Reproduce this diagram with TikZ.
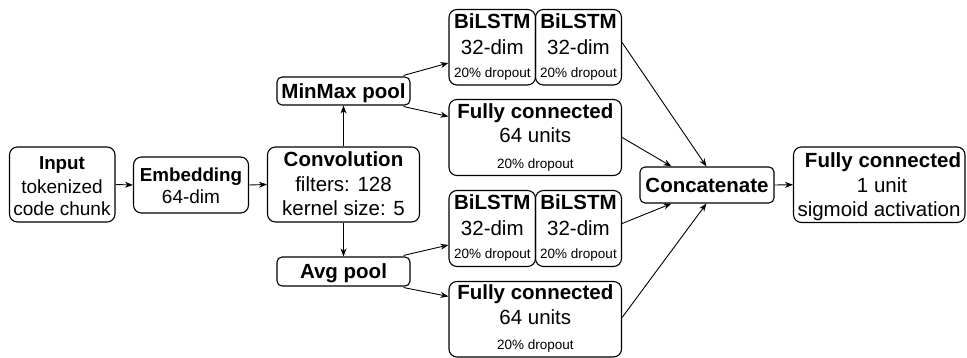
\documentclass[tikz,border=0pt]{standalone}
\usepackage{fontspec}
\setmainfont{Liberation Sans}
\usetikzlibrary{arrows.meta,calc}
\tikzset{
  box/.style={draw, rounded corners=8pt, line width=1.1pt, inner sep=0pt},
  sbox/.style={box, rounded corners=5pt},
  conn/.style={line width=0.9pt, -{Stealth[length=8pt,width=6pt,inset=2.5pt]}},
  txt/.style={anchor=base, inner sep=0pt},
  H/.style={txt, font=\fontsize{20.5}{24}\selectfont\bfseries},
  R/.style={txt, font=\fontsize{20.5}{24}\selectfont},
  HS/.style={txt, font=\fontsize{18.8}{22}\selectfont\bfseries},
  RS/.style={txt, font=\fontsize{19}{22}\selectfont},
  S/.style={txt, font=\fontsize{13.5}{16}\selectfont},
}
\newcommand\bx[6][box]{\node[#1, minimum width={#5-#3}, minimum height={#6-#4}] (#2) at ({(#3+#5)/2},{(#4+#6)/2}) {};}
\begin{document}
\begin{tikzpicture}[x=1pt,y=-1pt]
\useasboundingbox (0,0) rectangle (967,358);
% boxes
\bx{inp}{9.5}{147}{115}{222}
\bx{emb}{133.5}{157}{248.5}{213}
\bx{conv}{267.5}{147}{419.5}{222}
\bx[sbox]{mm}{277}{77}{410}{105}
\bx[sbox]{avg}{277}{257}{410}{286}
\bx{bla}{449}{9.5}{535.5}{85}
\bx{blb}{535.5}{9.5}{621.5}{85}
\bx{fca}{449}{99.5}{621.5}{175.5}
\bx{blc}{449}{190.5}{535.5}{266.5}
\bx{bld}{535.5}{190.5}{621.5}{266.5}
\bx{fcb}{449}{281.5}{621.5}{357}
\bx[sbox]{cat}{640}{167}{774}{203}
\bx{out}{793.5}{147}{965}{222.5}
% texts
\node[HS] (inp1) at (62,169.3) {Input};
\node[RS] (inp2) at (62,193.3) {tokenized};
\node[RS] (inp3) at (62,216) {code chunk};
\node[HS] (emb1) at (191,181.7) {Embedding};
\node[RS] (emb2) at (191,203.3) {64-dim};
\node[H] (conv1) at (343.5,166.7) {Convolution};
\node[R] (conv2) at (343.5,191.7) {filters: 128};
\node[R] (conv3) at (343.5,216) {kernel size: 5};
\node[H] (mm1) at (343.5,98.5) {MinMax pool};
\node[H] (avg1) at (343.5,278.5) {Avg pool};
\foreach \n/\cx/\oy in {bla/492.3/0, blb/578.5/0, blc/492.3/181, bld/578.5/181}{
  \node[H] (\n1) at (\cx,28.3+\oy) {BiLSTM};
  \node[R] (\n2) at (\cx,55+\oy) {32-dim};
  \node[S] (\n3) at (\cx,77.3+\oy) {20\% dropout};
}
\foreach \n/\oy in {fca/0, fcb/181.5}{
  \node[H] (\n1) at (535.3,118.3+\oy) {Fully connected};
  \node[R] (\n2) at (535.3,142.7+\oy) {64 units};
  \node[S] (\n3) at (535.3,168.3+\oy) {20\% dropout};
}
\node[H] (cat1) at (707,192.5) {Concatenate};
\node[H] (out1) at (883,167.5) {Fully connected};
\node[R] (out2) at (882,193) {1 unit};
\node[R] (out3) at (879,216.5) {sigmoid activation};
% connectors
\draw[conn] (inp.east) -- (emb.west);
\draw[conn] (emb.east) -- (conv.west);
\draw[conn] (conv.north) -- (mm.south);
\draw[conn] (conv.south) -- (avg.north);
\draw[conn] ($(mm.north east)+(-7,-1)$) -- ($(bla.west)+(0,15.7)$);
\draw[conn] ($(mm.south east)+(-7,1)$) -- ($(fca.north west)+(0,17.5)$);
\draw[conn] ($(avg.north east)+(-7,-1)$) -- ($(blc.west)+(0,16.5)$);
\draw[conn] ($(avg.south east)+(-7,1)$) -- ($(fcb.north west)+(0,15.5)$);
\draw[conn] ($(blb.north east)+(0,33.5)$) -- ($(cat.north west)+(67,0)$);
\draw[conn] ($(fca.north east)+(0,38.5)$) -- ($(cat.north west)+(32,0)$);
\draw[conn] ($(bld.south east)+(0,-43.5)$) -- ($(cat.south west)+(32,0)$);
\draw[conn] ($(fcb.south east)+(0,-40)$) -- ($(cat.south west)+(67,0)$);
\draw[conn] (cat.east) -- (out.west);
\end{tikzpicture}
\end{document}
